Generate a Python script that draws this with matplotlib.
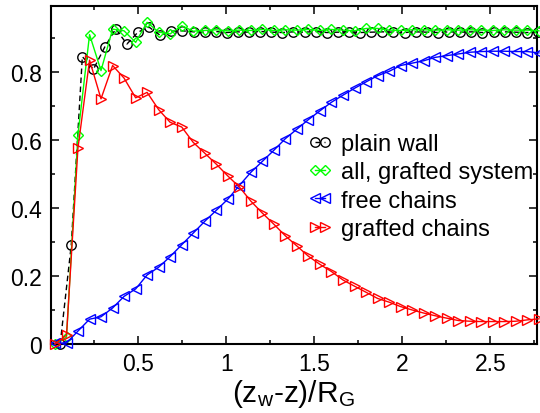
import matplotlib
matplotlib.use("Agg")
import matplotlib.pyplot as plt
from matplotlib.ticker import MultipleLocator, FixedLocator

plt.rcParams['font.family'] = ['Liberation Sans', 'DejaVu Sans']
plt.rcParams['mathtext.fontset'] = 'custom'
plt.rcParams['mathtext.rm'] = 'Liberation Sans'
plt.rcParams['mathtext.it'] = 'Liberation Sans'

# x grid of the grafted system (43 points)
x_graft = [0.025, 0.091, 0.156, 0.222, 0.287, 0.353, 0.418, 0.484, 0.549, 0.615,
           0.680, 0.746, 0.811, 0.877, 0.942, 1.008, 1.073, 1.139, 1.204, 1.270,
           1.335, 1.401, 1.466, 1.532, 1.597, 1.663, 1.728, 1.794, 1.859, 1.925,
           1.990, 2.056, 2.121, 2.187, 2.252, 2.318, 2.383, 2.449, 2.514, 2.580,
           2.645, 2.711, 2.776]

# x grid of the plain wall (44 points)
x_plain = [0.055, 0.118, 0.181, 0.244, 0.308, 0.371, 0.434, 0.497, 0.560, 0.623,
           0.686, 0.750, 0.813, 0.876, 0.939, 1.002, 1.065, 1.128, 1.192, 1.255,
           1.318, 1.381, 1.444, 1.507, 1.570, 1.634, 1.697, 1.760, 1.823, 1.886,
           1.949, 2.012, 2.076, 2.139, 2.202, 2.265, 2.328, 2.391, 2.454, 2.518,
           2.581, 2.644, 2.707, 2.770]

plain_wall = [0.000, 0.291, 0.845, 0.808, 0.873, 0.927, 0.882, 0.917, 0.932, 0.908,
              0.920, 0.921, 0.918, 0.917, 0.919, 0.916, 0.918, 0.917, 0.919, 0.917,
              0.916, 0.918, 0.917, 0.919, 0.916, 0.917, 0.918, 0.916, 0.917, 0.918,
              0.917, 0.916, 0.918, 0.917, 0.916, 0.918, 0.917, 0.918, 0.916, 0.917,
              0.918, 0.917, 0.916, 0.917]

all_grafted = [0.000, 0.020, 0.615, 0.910, 0.804, 0.926, 0.921, 0.887, 0.946, 0.917,
               0.912, 0.936, 0.920, 0.922, 0.924, 0.921, 0.923, 0.922, 0.925, 0.922,
               0.924, 0.923, 0.925, 0.922, 0.925, 0.923, 0.921, 0.928, 0.928, 0.923,
               0.922, 0.924, 0.924, 0.923, 0.924, 0.923, 0.924, 0.923, 0.922, 0.924,
               0.923, 0.923, 0.921]

free_chains = [0.002, 0.003, 0.038, 0.073, 0.080, 0.106, 0.140, 0.162, 0.203, 0.226,
               0.257, 0.292, 0.326, 0.361, 0.393, 0.426, 0.466, 0.505, 0.537, 0.570,
               0.604, 0.632, 0.660, 0.686, 0.711, 0.732, 0.752, 0.771, 0.789, 0.802,
               0.819, 0.826, 0.833, 0.843, 0.848, 0.853, 0.858, 0.860, 0.861, 0.861,
               0.860, 0.860, 0.856]

grafted_chains = [0.000, 0.026, 0.576, 0.835, 0.721, 0.819, 0.782, 0.724, 0.740, 0.689,
                  0.652, 0.638, 0.593, 0.561, 0.529, 0.494, 0.462, 0.420, 0.385, 0.352,
                  0.318, 0.288, 0.258, 0.234, 0.213, 0.188, 0.170, 0.152, 0.134, 0.123,
                  0.110, 0.100, 0.091, 0.083, 0.076, 0.069, 0.067, 0.066, 0.066, 0.066,
                  0.067, 0.071, 0.074]

labels = ["plain wall", "all, grafted system", "free chains", "grafted chains"]
x_ticks = [0.5, 1, 1.5, 2, 2.5]
x_ticklabels = ["0.5", "1", "1.5", "2", "2.5"]
y_ticks = [0, 0.2, 0.4, 0.6, 0.8]
y_ticklabels = ["0", "0.2", "0.4", "0.6", "0.8"]

fig = plt.figure(figsize=(5.4, 4.14), dpi=100)
ax = fig.add_axes([50.5 / 540, 69 / 414, (537 - 50.5) / 540, (345 - 7) / 414])

lw = 1.0
mew = 1.0
ax.plot(x_plain, plain_wall, color='black', ls=(0, (4, 2.5)), lw=lw, marker='o', ms=6.8,
        mfc='none', mec='black', mew=mew, label=labels[0], clip_on=False, zorder=3)
ax.plot(x_graft, all_grafted, color='#00ff00', ls='-', lw=lw, marker='D', ms=5.2,
        mfc='none', mec='#00ff00', mew=mew, label=labels[1], clip_on=False, zorder=4)
ax.plot(x_graft, free_chains, color='#0000ff', ls='-', lw=lw, marker='<', ms=6.5,
        mfc='none', mec='#0000ff', mew=mew, label=labels[2], clip_on=False, zorder=5)
ax.plot(x_graft, grafted_chains, color='#ff0000', ls='-', lw=lw, marker='>', ms=6.5,
        mfc='none', mec='#ff0000', mew=mew, label=labels[3], clip_on=False, zorder=6)

ax.set_xlim(0, 2.765)
ax.set_ylim(0, 0.994)

ax.xaxis.set_major_locator(FixedLocator(x_ticks))
ax.set_xticklabels(x_ticklabels)
ax.yaxis.set_major_locator(FixedLocator(y_ticks))
ax.set_yticklabels(y_ticklabels)
ax.xaxis.set_minor_locator(MultipleLocator(0.25))
ax.yaxis.set_minor_locator(MultipleLocator(0.1))

for s in ax.spines.values():
    s.set_linewidth(1.5)
ax.tick_params(which='both', direction='in', top=True, right=True, width=1.1)
ax.tick_params(which='major', length=6, labelsize=16.5, pad=6)
ax.tick_params(which='minor', length=3.2)

ax.set_xlabel(r'(z$_\mathregular{w}$-z)/R$_\mathregular{G}$', fontsize=21.5, labelpad=1)

leg = ax.legend(loc='upper left', bbox_to_anchor=(308 / 540, 1 - 134 / 414),
                bbox_transform=fig.transFigure, frameon=False, fontsize=17,
                numpoints=2, handlelength=1.0, handletextpad=0.4,
                labelspacing=0.27, borderpad=0, borderaxespad=0)

fig.savefig("out.png", dpi=100)
